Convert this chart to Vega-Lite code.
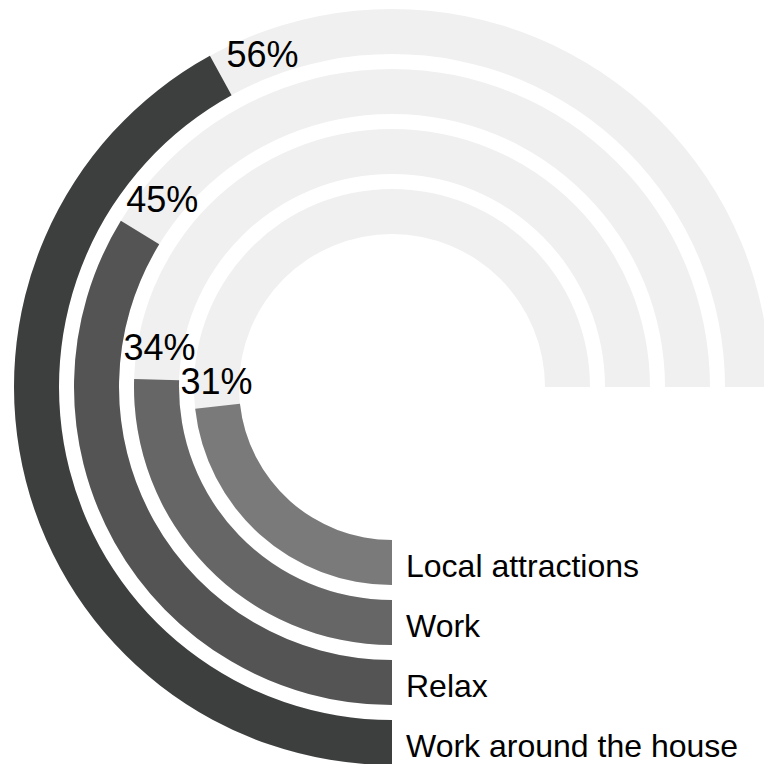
{
  "$schema": "https://vega.github.io/schema/vega-lite/v6.json",
  "autosize": "none",
  "width": 744,
  "height": 754,
  "padding": {"left": 20, "top": 10, "right": 0, "bottom": 0},
  "background": "white",
  "config": {"view": {"stroke": null}, "font": "Liberation Sans"},
  "data": {
    "values": [
      {"category": "Local attractions", "value": 0.31, "rank": 1},
      {"category": "Work", "value": 0.34, "rank": 2},
      {"category": "Relax", "value": 0.45, "rank": 3},
      {"category": "Work around the house", "value": 0.56, "rank": 4}
    ]
  },
  "encoding": {
    "radius": {"field": "rank", "type": "quantitative", "scale": {"type": "linear", "domain": [1, 4], "range": [198, 378], "zero": false}}
  },
  "layer": [
    {
      "mark": {"type": "arc", "theta": 3.14159265, "theta2": 7.85398163, "radius2Offset": -45, "color": "#f0f0f0"},
      "encoding": {
        "radius2": {"field": "rank"}
      }
    },
    {
      "mark": {"type": "arc", "theta2": 3.14159265, "radius2Offset": -45},
      "encoding": {
        "theta": {"field": "value", "type": "quantitative", "stack": null, "scale": {"type": "linear", "domain": [0, 1], "range": [3.14159265, 7.85398163], "zero": false}},
        "radius2": {"field": "rank"},
        "color": {
          "field": "category", "type": "nominal", "legend": null,
          "scale": {
            "domain": ["Local attractions", "Work", "Relax", "Work around the house"],
            "range": ["#7a7a7a", "#666666", "#535453", "#3d3f3e"]
          }
        }
      }
    },
    {
      "mark": {"type": "text", "radiusOffset": -22.5, "thetaOffset": 0.13, "align": "center", "baseline": "middle", "fontSize": 36, "color": "black"},
      "encoding": {
        "theta": {"field": "value", "type": "quantitative", "stack": null},
        "text": {"field": "value", "type": "quantitative", "format": ".0%"}
      }
    },
    {
      "mark": {"type": "text", "theta": 3.14159265, "radiusOffset": -22.5, "align": "left", "baseline": "middle", "dx": 14, "dy": 4, "fontSize": 32, "color": "black"},
      "encoding": {
        "text": {"field": "category", "type": "nominal"}
      }
    }
  ]
}
